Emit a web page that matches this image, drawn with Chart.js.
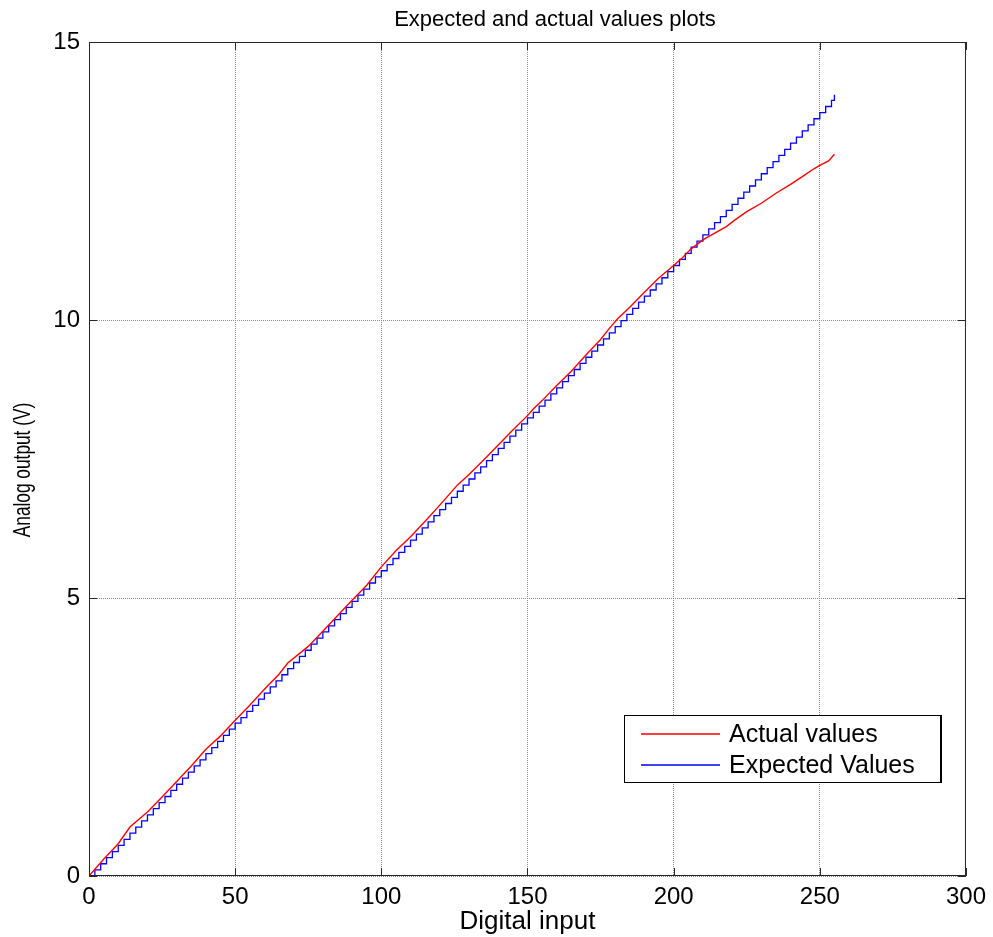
<!DOCTYPE html>
<html>
<head>
<meta charset="utf-8">
<script src="https://cdn.jsdelivr.net/npm/chart.js@4/dist/chart.umd.min.js"></script>
<style>
    html, body { margin: 0; padding: 0; background: #fff; }
    #wrap { width: 993px; height: 937px; }
</style>
</head>
<body>
<div id="wrap"><canvas id="dacChart"></canvas></div>
<script>
const actualX = [0, 5, 10, 14, 20, 25, 30, 35, 40, 45, 50, 55, 60, 65, 68, 75, 80, 85, 90, 95,
    100, 105, 110, 115, 120, 126, 130, 135, 140, 145, 150, 152, 155, 160, 165, 170, 175, 178, 181, 185,
    190, 195, 200, 203, 206, 210, 213, 218, 221, 225, 230, 235, 240, 244, 248, 250, 253, 255];
const actualY = [0, 0.30, 0.58, 0.88, 1.15, 1.42, 1.70, 1.98, 2.28, 2.52, 2.80, 3.07, 3.36, 3.63, 3.83, 4.13, 4.40, 4.68, 4.96, 5.23,
    5.56, 5.85, 6.10, 6.38, 6.67, 7.03, 7.22, 7.48, 7.75, 8.02, 8.28, 8.40, 8.55, 8.82, 9.08, 9.37, 9.65, 9.85, 10.03, 10.23,
    10.50, 10.76, 10.98, 11.12, 11.28, 11.44, 11.53, 11.68, 11.80, 11.95, 12.10, 12.28, 12.44, 12.58, 12.72, 12.78, 12.86, 12.98];

// expected staircase (one step every 2 codes)
const expectedX = [0, 2, 4, 6, 8, 10, 12, 14, 16, 18, 20, 22, 24, 26, 28, 30, 32, 34, 36, 38,
    40, 42, 44, 46, 48, 50, 52, 54, 56, 58, 60, 62, 64, 66, 68, 70, 72, 74, 76, 78,
    80, 82, 84, 86, 88, 90, 92, 94, 96, 98, 100, 102, 104, 106, 108, 110, 112, 114, 116, 118,
    120, 122, 124, 126, 128, 130, 132, 134, 136, 138, 140, 142, 144, 146, 148, 150, 152, 154, 156, 158,
    160, 162, 164, 166, 168, 170, 172, 174, 176, 178, 180, 182, 184, 186, 188, 190, 192, 194, 196, 198,
    200, 202, 204, 206, 208, 210, 212, 214, 216, 218, 220, 222, 224, 226, 228, 230, 232, 234, 236, 238,
    240, 242, 244, 246, 248, 250, 252, 254, 255];
const expectedY = [0.00, 0.11, 0.22, 0.33, 0.44, 0.55, 0.66, 0.77, 0.88, 0.99, 1.10, 1.21, 1.32, 1.43, 1.54, 1.65, 1.76, 1.87, 1.98, 2.09,
    2.20, 2.31, 2.42, 2.53, 2.64, 2.75, 2.85, 2.96, 3.07, 3.18, 3.29, 3.40, 3.51, 3.62, 3.73, 3.84, 3.95, 4.06, 4.17, 4.28,
    4.39, 4.50, 4.61, 4.72, 4.83, 4.94, 5.05, 5.16, 5.27, 5.38, 5.49, 5.60, 5.71, 5.82, 5.93, 6.04, 6.15, 6.26, 6.37, 6.48,
    6.59, 6.70, 6.81, 6.92, 7.03, 7.14, 7.25, 7.36, 7.47, 7.58, 7.69, 7.80, 7.91, 8.02, 8.13, 8.24, 8.34, 8.45, 8.56, 8.67,
    8.78, 8.89, 9.00, 9.11, 9.22, 9.33, 9.44, 9.55, 9.66, 9.77, 9.88, 9.99, 10.10, 10.21, 10.32, 10.43, 10.54, 10.65, 10.76, 10.87,
    10.98, 11.09, 11.20, 11.31, 11.42, 11.53, 11.64, 11.75, 11.86, 11.97, 12.08, 12.19, 12.30, 12.41, 12.52, 12.63, 12.74, 12.85, 12.96, 13.07,
    13.18, 13.29, 13.40, 13.51, 13.62, 13.73, 13.84, 13.95, 14.05];

const xTicks = [0, 50, 100, 150, 200, 250, 300];
const yTicks = [0, 5, 10, 15];

const FONT = '"Liberation Sans", Arial, sans-serif';
const RED = '#ff0000';
const BLUE = '#0000ff';

// matlab-ish frame, inward ticks, title, rotated y label and a boxed legend inside the axes
const matlabFrame = {
    id: 'matlabFrame',
    afterDraw(chart) {
        const { ctx, chartArea: a, scales: { x, y } } = chart;
        ctx.save();
        ctx.strokeStyle = '#262626';
        ctx.lineWidth = 1;
        ctx.strokeRect(a.left + 0.5, a.top + 0.5, a.right - a.left - 1, a.bottom - a.top - 1);

        const tl = 8;
        ctx.beginPath();
        xTicks.forEach(v => {
            const px = Math.round(x.getPixelForValue(v)) + 0.5;
            ctx.moveTo(px, a.bottom); ctx.lineTo(px, a.bottom - tl);
            ctx.moveTo(px, a.top); ctx.lineTo(px, a.top + tl);
        });
        yTicks.forEach(v => {
            const py = Math.round(y.getPixelForValue(v)) + 0.5;
            ctx.moveTo(a.left, py); ctx.lineTo(a.left + tl, py);
            ctx.moveTo(a.right, py); ctx.lineTo(a.right - tl, py);
        });
        ctx.stroke();

        ctx.fillStyle = '#000';
        ctx.font = '22px ' + FONT;
        ctx.textAlign = 'center';
        ctx.textBaseline = 'middle';
        ctx.fillText('Expected and actual values plots', 555, 20);

        // y axis label, a bit condensed like the matlab export
        ctx.save();
        ctx.translate(23, (a.top + a.bottom) / 2 + 11);
        ctx.rotate(-Math.PI / 2);
        ctx.scale(0.72, 1);
        ctx.font = '24px ' + FONT;
        ctx.fillText('Analog output (V)', 0, 0);
        ctx.restore();

        // legend
        const box = { l: 624, t: 715, r: 940, b: 782 };
        ctx.fillStyle = '#fff';
        ctx.fillRect(box.l, box.t, box.r - box.l, box.b - box.t);
        ctx.strokeStyle = '#000';
        ctx.lineWidth = 1;
        ctx.strokeRect(box.l + 0.5, box.t + 0.5, box.r - box.l, box.b - box.t);
        ctx.lineWidth = 2;
        ctx.beginPath();
        ctx.moveTo(box.r + 1, box.t); ctx.lineTo(box.r + 1, box.b + 1);
        ctx.stroke();

        ctx.font = '25px ' + FONT;
        ctx.textAlign = 'left';
        const rows = [734, 765];
        const cols = [RED, BLUE];
        chart.data.datasets.forEach((ds, i) => {
            ctx.strokeStyle = cols[i];
            ctx.lineWidth = 1.3;
            ctx.beginPath();
            ctx.moveTo(641, rows[i]); ctx.lineTo(720, rows[i]);
            ctx.stroke();
            ctx.fillStyle = '#000';
            ctx.fillText(ds.label, 729, rows[i] + 1);
        });
        ctx.restore();
    }
};

new Chart(document.getElementById('dacChart'), {
    type: 'line',
    data: {
        datasets: [{
            label: 'Actual values',
            data: actualX.map((v, i) => ({ x: v, y: actualY[i] })),
            borderColor: RED,
            borderWidth: 1.4,
            pointRadius: 0,
            tension: 0
        }, {
            label: 'Expected Values',
            data: expectedX.map((v, i) => ({ x: v, y: expectedY[i] })),
            borderColor: BLUE,
            borderWidth: 1.3,
            pointRadius: 0,
            stepped: true
        }]
    },
    options: {
        responsive: true,
        maintainAspectRatio: false,
        animation: false,
        layout: { padding: { left: 0, right: 26, top: 42, bottom: 0 } },
        plugins: {
            legend: { display: false },
            tooltip: { enabled: false },
            title: { display: false }
        },
        scales: {
            x: {
                type: 'linear',
                min: 0,
                max: 300,
                afterFit: s => { s.height = 61; },
                afterBuildTicks: s => { s.ticks = xTicks.map(v => ({ value: v })); },
                ticks: { color: '#000', font: { family: FONT, size: 24 }, padding: 7, maxRotation: 0 },
                grid: { color: '#8a8a8a', drawTicks: false, lineWidth: 1 },
                border: { display: false, dash: [1, 1] },
                title: {
                    display: true,
                    text: 'Digital input',
                    color: '#000',
                    font: { family: FONT, size: 26, lineHeight: 1.2 },
                    padding: { top: 0, bottom: 0 }
                }
            },
            y: {
                type: 'linear',
                min: 0,
                max: 15,
                afterFit: s => { s.width = 89; },
                afterBuildTicks: s => { s.ticks = yTicks.map(v => ({ value: v })); },
                ticks: { color: '#000', font: { family: FONT, size: 24 }, padding: 9 },
                grid: { color: '#8a8a8a', drawTicks: false, lineWidth: 1 },
                border: { display: false, dash: [1, 1] },
                title: { display: false }
            }
        }
    },
    plugins: [matlabFrame]
});
</script>
</body>
</html>
